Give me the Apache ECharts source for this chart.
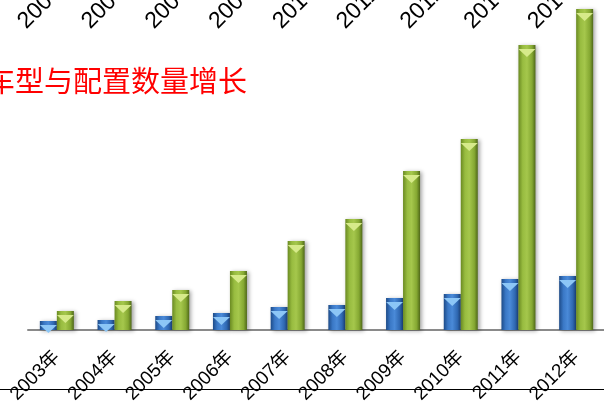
<!DOCTYPE html>
<html>
<head>
<meta charset="utf-8">
<script src="https://cdn.jsdelivr.net/npm/echarts@6/dist/echarts.min.js"></script>
<style>
  html, body { margin: 0; padding: 0; background: #ffffff; }
  #chart { width: 604px; height: 404px; }
</style>
</head>
<body>
<div id="chart"></div>
<script>
// Yearly counts: models (blue) and configurations (green)
const years = ['2003年', '2004年', '2005年', '2006年', '2007年', '2008年', '2009年', '2010年', '2011年', '2012年'];
const modelCounts = [90, 100, 140, 170, 230, 250, 320, 360, 510, 540];
const configCounts = [190, 290, 400, 590, 890, 1110, 1590, 1910, 2850, 3210];
// Year labels of the strip running along the top edge
const topYears = ['2006年', '2007年', '2008年', '2009年', '2010年', '2011年', '2012年', '2013年', '2014年'];
const titleText = '车型与配置数量增长';

const chart = echarts.init(document.getElementById('chart'), null, { renderer: 'canvas' });

function hGrad(stops) {
  return new echarts.graphic.LinearGradient(0, 0, 1, 0, stops.map((c) => ({ offset: c[0], color: c[1] })));
}

const blueFill = hGrad([[0, '#1d4b88'], [0.25, '#3a78c6'], [0.5, '#4a8ad8'], [0.8, '#2f68b2'], [1, '#1a3f75']]);
const greenFill = hGrad([[0, '#6a8a22'], [0.25, '#98bc40'], [0.5, '#a5c74c'], [0.8, '#85a832'], [1, '#4f6818']]);

const capPath = 'path://M0,0 L20,0 L10,9 Z';
const BAR_W = 17;
const LABEL_FONT = 'Liberation Sans, Noto Sans CJK SC, sans-serif';

const barShadow = {
  shadowBlur: 4,
  shadowColor: 'rgba(0,0,0,0.35)',
  shadowOffsetX: 2,
  shadowOffsetY: 1
};

const option = {
  animation: false,
  backgroundColor: '#ffffff',
  grid: [
    { left: 28, width: 577, top: 0, height: 330, containLabel: false, outerBoundsMode: 'none' },
    { left: -10, width: 574, top: 29, height: 10, containLabel: false, outerBoundsMode: 'none' }
  ],
  xAxis: [
    {
      type: 'category',
      gridIndex: 0,
      data: years,
      axisLine: { lineStyle: { color: '#8a8a8a', width: 2 } },
      axisTick: { length: 6, lineStyle: { color: '#8a8a8a', width: 2 } },
      axisLabel: {
        rotate: 45,
        margin: 24,
        fontSize: 19,
        color: '#000000',
        fontFamily: LABEL_FONT,
        interval: 0
      }
    },
    {
      type: 'category',
      gridIndex: 1,
      position: 'top',
      data: topYears,
      axisLine: { show: false },
      axisTick: { show: false },
      axisLabel: {
        rotate: 45,
        margin: 4,
        fontSize: 23,
        color: '#000000',
        fontFamily: LABEL_FONT,
        interval: 0
      }
    }
  ],
  yAxis: [
    { type: 'value', gridIndex: 0, min: 0, max: 3300, show: false, splitLine: { show: false } },
    { type: 'value', gridIndex: 1, show: false, splitLine: { show: false } }
  ],
  series: [
    {
      name: '车型',
      type: 'bar',
      xAxisIndex: 0, yAxisIndex: 0,
      data: modelCounts,
      barWidth: BAR_W,
      barGap: '0%',
      itemStyle: Object.assign({ color: blueFill }, barShadow)
    },
    {
      name: '配置',
      type: 'bar',
      xAxisIndex: 0, yAxisIndex: 0,
      data: configCounts,
      barWidth: BAR_W,
      barGap: '0%',
      itemStyle: Object.assign({ color: greenFill }, barShadow)
    },
    {
      name: '车型顶',
      type: 'pictorialBar',
      xAxisIndex: 0, yAxisIndex: 0,
      data: modelCounts,
      barWidth: BAR_W,
      barGap: '0%',
      symbol: capPath,
      symbolSize: [BAR_W, 8],
      symbolPosition: 'end',
      symbolOffset: [0, '50%'],
      z: 3,
      itemStyle: { color: '#8cc6f6' }
    },
    {
      name: '配置顶',
      type: 'pictorialBar',
      xAxisIndex: 0, yAxisIndex: 0,
      data: configCounts,
      barWidth: BAR_W,
      barGap: '0%',
      symbol: capPath,
      symbolSize: [BAR_W, 8],
      symbolPosition: 'end',
      symbolOffset: [0, '50%'],
      z: 3,
      itemStyle: { color: '#d6ea8a' }
    }
  ],
  graphic: [
    {
      type: 'text',
      x: -14,
      y: 66,
      style: {
        text: titleText,
        fill: '#ff0000',
        font: '29px "Noto Sans CJK SC", sans-serif'
      }
    },
    {
      type: 'line',
      shape: { x1: 0, y1: 389.5, x2: 604, y2: 389.5 },
      style: { stroke: '#000000', lineWidth: 1 }
    }
  ]
};

chart.setOption(option);
</script>
</body>
</html>
